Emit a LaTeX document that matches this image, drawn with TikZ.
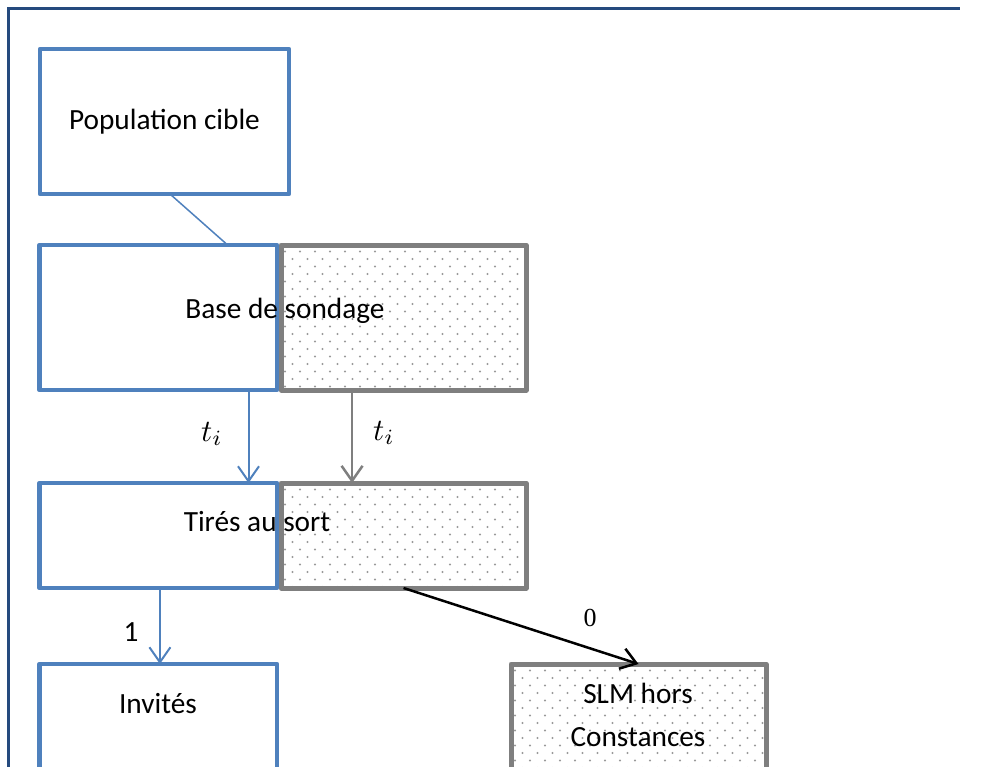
\documentclass[tikz,border=0pt]{standalone}
\usepackage{fontspec}
\setmainfont{Carlito}
\newfontfamily\serifdigits{Liberation Serif}
\usetikzlibrary{arrows.meta,calc}

\definecolor{boxblue}{HTML}{4F81BD}
\definecolor{boxgray}{HTML}{7F7F7F}
\definecolor{framecol}{HTML}{254A7E}
\definecolor{dotcol}{HTML}{999999}

\tikzset{
  bluebox/.style={draw=boxblue, line width=4.5pt, line join=round, inner sep=0pt, outer sep=0pt, anchor=north west},
  graybox/.style={draw=boxgray, line width=5pt, line join=round, inner sep=0pt, outer sep=0pt, anchor=north west},
  lbl/.style={anchor=base, inner sep=0pt, font=\fontsize{29.3}{35}\selectfont},
  mathlbl/.style={anchor=base, inner sep=0pt},
  digit/.style={anchor=base, inner sep=0pt, font=\serifdigits\fontsize{26}{30}\selectfont},
  barb/.style={-{Straight Barb[length=15pt,width=21pt]}},
  bluelink/.style={draw=boxblue, line width=2pt, barb},
  graylink/.style={draw=boxgray, line width=2.5pt, barb},
  blacklink/.style={draw=black, line width=2.5pt, barb},
}

% math label t_i, enlarged
\newcommand\tlabel{\scalebox{3.1}{$t_i$}}

% staggered dot fill inside the border of a dotted box
\newcommand\dotgrid[2]{%
  \begin{scope}
    \clip ($(#1.north west)+(2.5,2.5)$) rectangle ($(#1.south east)+(-2.5,-2.5)$);
    \foreach \r in {0,...,#2}{
      \foreach \c in {0,...,17}{
        \fill[dotcol] ($(#1.north west)+({7.5*mod(\r,2)+4+15*\c},{6.5+7.5*\r})$) circle (1.2);
      }
    }
  \end{scope}}

\begin{document}
\begin{tikzpicture}[x=1pt,y=-1pt]
  \fill[white] (0,0) rectangle (992,767);
  \useasboundingbox (0,0) rectangle (992,767);
  \clip (0,0) rectangle (992,767);

  % outer frame: left and top edges
  \draw[framecol, line width=2.5pt] (8.7,767) -- (8.7,7.45);
  \draw[framecol, line width=2.5pt] (7.45,8.7) -- (960,8.7);

  % boxes
  \node[bluebox, minimum width=249pt, minimum height=145pt] (pop) at (40,49) {};
  \node[bluebox, minimum width=237.5pt, minimum height=145pt] (baseB) at (39.5,245) {};
  \node[graybox, minimum width=245pt, minimum height=145pt] (baseG) at (281,245) {};
  \dotgrid{baseG}{19}

  \node[bluebox, minimum width=237.5pt, minimum height=105pt] (tirB) at (39.5,483) {};
  \node[graybox, minimum width=245pt, minimum height=105pt] (tirG) at (281,483) {};
  \dotgrid{tirG}{14}

  \node[bluebox, minimum width=237.5pt, minimum height=160pt] (invB) at (39.5,664) {};
  \node[graybox, minimum width=255pt, minimum height=160pt] (slm) at (511,664) {};
  \dotgrid{slm}{14}

  % texts
  \node[lbl] (tpop) at (164.5,130) {Population cible};
  \node[lbl] (tbase) at (285,318) {Base de sondage};
  \node[lbl] (ttir) at (257,531) {Tirés au sort};
  \node[lbl] (tinv) at (158,713) {Invités};
  \node[lbl] (tslm1) at (638,703) {SLM hors};
  \node[lbl] (tslm2) at (638,746) {Constances};

  % connectors
  \draw[boxblue, line width=1.5pt]
    ($(pop.south west)!0.522!(pop.south east)$) -- ($(baseB.north west)!0.792!(baseB.north east)$);
  \draw[bluelink]
    ($(baseB.south west)!0.88!(baseB.south east)$) -- ($(tirB.north west)!0.88!(tirB.north east)$);
  \draw[graylink]
    ($(baseG.south west)!0.29!(baseG.south east)$) -- ($(tirG.north west)!0.29!(tirG.north east)$);
  \draw[bluelink]
    ($(tirB.south west)!0.507!(tirB.south east)$) -- ($(invB.north west)!0.507!(invB.north east)$);
  \draw[blacklink] (tirG.south) -- (slm.north);

  % connector labels
  \node[mathlbl] (lti1) at (212,441) {\tlabel};
  \node[mathlbl] (lti2) at (384,440) {\tlabel};
  \node[lbl] (lone) at (131,641) {1};
  \node[digit] (lzero) at (590,626) {0};
\end{tikzpicture}
\end{document}
